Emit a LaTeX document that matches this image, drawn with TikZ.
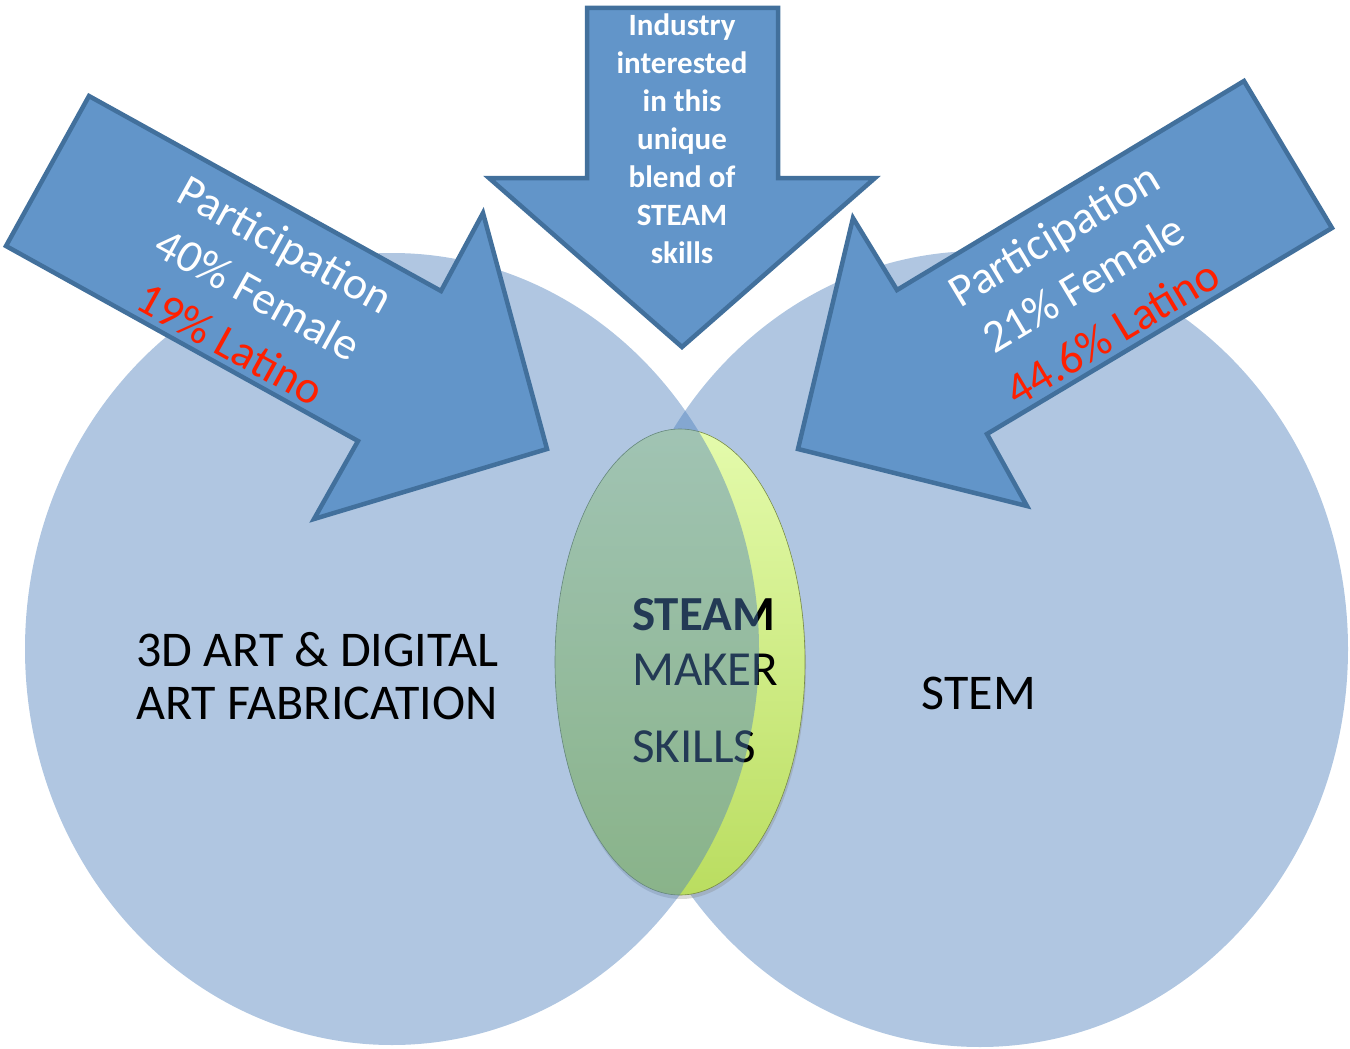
\documentclass[tikz,border=0pt]{standalone}
\usepackage{fontspec}
\setmainfont{Carlito}
\usetikzlibrary{shadows}
\definecolor{vennblue}{RGB}{79,129,189}
\definecolor{arrowfill}{RGB}{98,149,201}
\definecolor{arrowline}{RGB}{66,112,156}
\definecolor{latred}{RGB}{255,32,0}
\definecolor{lenstop}{RGB}{228,251,172}
\definecolor{lensbot}{RGB}{186,221,96}
\definecolor{lensline}{RGB}{120,140,70}
\begin{document}
\begin{tikzpicture}[x=1pt,y=-1pt]
  \pgfmathsetmacro{\cy}{649}
  \tikzstyle{venn}=[fill=vennblue, fill opacity=0.45]
  \tikzstyle{lens}=[draw=lensline, line width=0.6pt, top color=lenstop, bottom color=lensbot,
    drop shadow={shadow xshift=1pt, shadow yshift=-4pt, opacity=0.3}]
  \tikzstyle{blockarrow}=[fill=arrowfill, draw=arrowline, line width=4.5pt, line join=miter]
  \tikzstyle{big}=[font=\fontsize{50}{53}\selectfont]
  \tikzstyle{mid}=[anchor=base west, inner sep=0pt, font=\fontsize{49}{56}\selectfont]
  \tikzstyle{inarrow}=[align=center, text=white, font=\fontsize{46}{57}\selectfont]
  \useasboundingbox (0,0) rectangle (1350,1049);
  \fill [venn] (980,\cy) ellipse [x radius=368, y radius=398];
  \path [lens] (680,662) ellipse [x radius=125, y radius=233];
  \node [mid] (steam) at (632,630) {\bfseries STEAM};
  \node [mid] (maker) at (632,685) {MAKER};
  \node [mid] (skills) at (632,762) {SKILLS};
  \fill [venn] (392,\cy) ellipse [x radius=367, y radius=396];
  \draw [blockarrow] (587,8) -- (778,8) -- (778,178) -- (875,178) -- (682,347) -- (489,178) -- (587,178) -- cycle;
  \draw [blockarrow] (89,96) -- (441,291) -- (483,213) -- (547,449) -- (314,519) -- (358,441) -- (6,246) -- cycle;
  \draw [blockarrow] (1244,81) -- (897,290) -- (853,218) -- (798,449) -- (1027,506) -- (987,434) -- (1332,228) -- cycle;
  \node [align=center, text=white, font=\bfseries\fontsize{31}{38}\selectfont] (industry) at (682,139)
    {Industry\\interested\\in this\\unique\\blend of\\STEAM\\skills};
  \node [inarrow, rotate=-29] (artpart) at (258,294)
    {Participation\\40\% Female\\{\color{latred}19\% Latino}};
  \node [inarrow, rotate=31] (stempart) at (1083,283)
    {Participation\\21\% Female\\{\color{latred}44.6\% Latino}};
  \node [big, align=center] (artset) at (317,676) {3D ART \& DIGITAL\\ART FABRICATION};
  \node [big] (stemset) at (979,693) {STEM};
\end{tikzpicture}
\end{document}
